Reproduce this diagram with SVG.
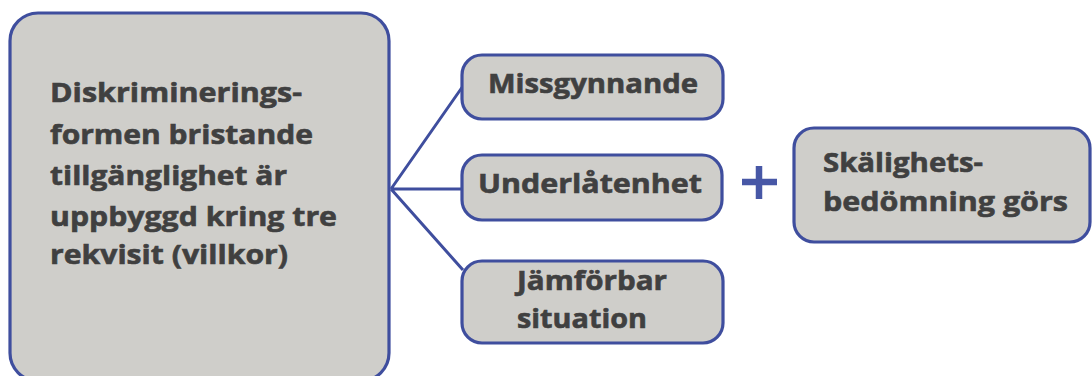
<svg xmlns="http://www.w3.org/2000/svg" width="1092" height="376" viewBox="0 0 1092 376">
<style>
.box{fill:#cfceca;stroke:#3f4e9e;stroke-width:3.2}
.t{font-family:"Open Sans",Lato,sans-serif;font-weight:bold;font-size:27px;fill:#404040;stroke:#404040;stroke-width:0.6}
.c{fill:none;stroke:#3f4e9e;stroke-width:3}
</style>
<rect width="1092" height="376" fill="#fff"/>
<g id="main">
<rect class="box" x="10" y="13" width="379" height="368" rx="28"/>
<text class="t"><tspan x="50" y="102" textLength="252" lengthAdjust="spacingAndGlyphs">Diskriminerings-</tspan><tspan x="50" y="144" textLength="263" lengthAdjust="spacingAndGlyphs">formen bristande</tspan><tspan x="50" y="185" textLength="237" lengthAdjust="spacingAndGlyphs">tillgänglighet är</tspan><tspan x="50" y="226" textLength="287" lengthAdjust="spacingAndGlyphs">uppbyggd kring tre</tspan><tspan x="50" y="264" textLength="238" lengthAdjust="spacingAndGlyphs">rekvisit (villkor)</tspan></text>
</g>
<g id="connectors">
<path class="c" d="M391 189 L463 86 M391 189 L463 189 M391 189 L463 270"/>
</g>
<g id="missgynnande">
<rect class="box" x="462" y="55" width="261" height="64" rx="20"/>
<text class="t" x="488" y="93" textLength="210" lengthAdjust="spacingAndGlyphs">Missgynnande</text>
</g>
<g id="underlatenhet">
<rect class="box" x="462" y="155" width="260" height="65" rx="20"/>
<text class="t" x="478" y="193" textLength="224" lengthAdjust="spacingAndGlyphs">Underlåtenhet</text>
</g>
<g id="jamforbar">
<rect class="box" x="462" y="261" width="261" height="82" rx="20"/>
<text class="t"><tspan x="517" y="290" textLength="150" lengthAdjust="spacingAndGlyphs">Jämförbar</tspan><tspan x="517" y="328" textLength="130" lengthAdjust="spacingAndGlyphs">situation</tspan></text>
</g>
<g id="plus">
<path d="M759 166 V199 M742 182 H777" stroke="#4757a6" stroke-width="6.5" fill="none"/>
</g>
<g id="skalighet">
<rect class="box" x="794" y="128" width="296" height="114" rx="20"/>
<text class="t"><tspan x="823" y="172" textLength="160" lengthAdjust="spacingAndGlyphs">Skälighets-</tspan><tspan x="823" y="211" textLength="245" lengthAdjust="spacingAndGlyphs">bedömning görs</tspan></text>
</g>
</svg>
